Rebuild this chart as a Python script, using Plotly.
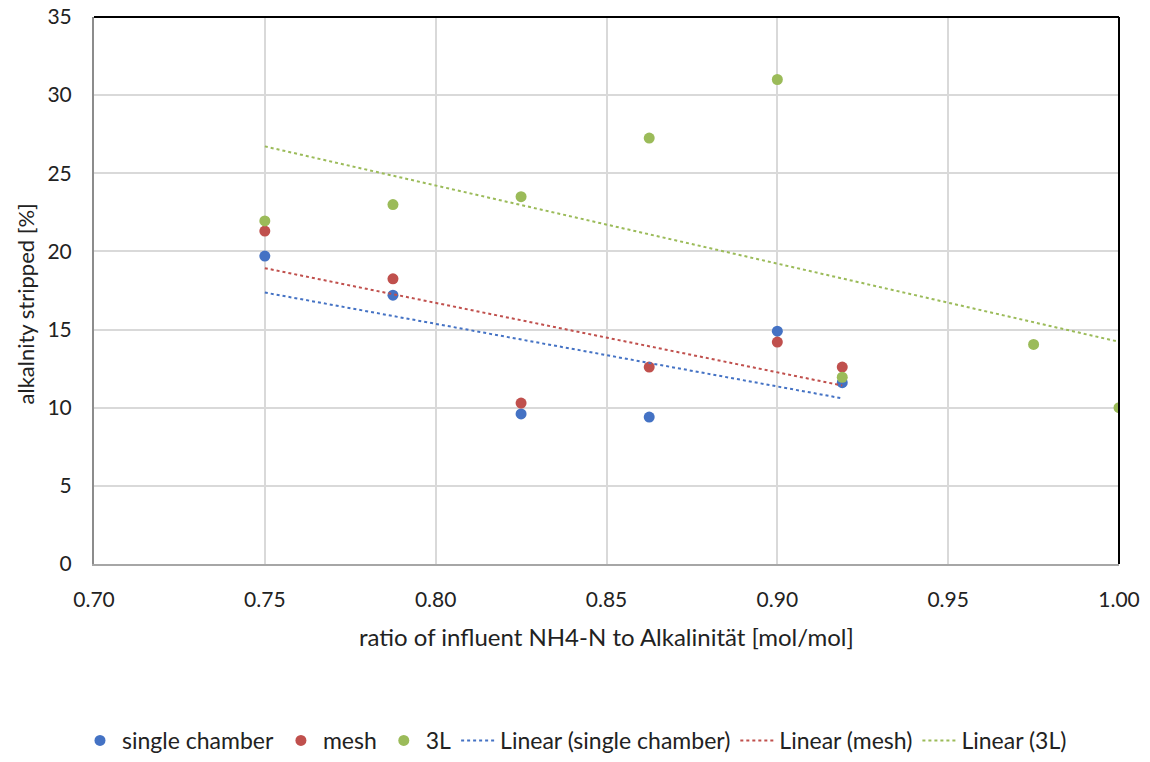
import plotly.graph_objects as go

# Ratio of influent NH4-N to alkalinity [mol/mol]
x_single = [0.75, 0.7875, 0.825, 0.8625, 0.90, 0.919]
y_single = [19.7, 17.2, 9.6, 9.4, 14.9, 11.6]

x_mesh = [0.75, 0.7875, 0.825, 0.8625, 0.90, 0.919]
y_mesh = [21.3, 18.25, 10.3, 12.6, 14.2, 12.6]

x_3l = [0.75, 0.7875, 0.825, 0.8625, 0.90, 0.919, 0.975, 1.00]
y_3l = [21.95, 23.0, 23.5, 27.25, 31.0, 11.95, 14.05, 10.0]

# Linear trend lines (start / end points)
trend_x_single = [0.75, 0.919]
trend_y_single = [17.37, 10.6]
trend_x_mesh = [0.75, 0.919]
trend_y_mesh = [18.93, 11.42]
trend_x_3l = [0.75, 1.00]
trend_y_3l = [26.72, 14.22]

BLUE = "#4472C4"
RED = "#C0504D"
GREEN = "#9BBB59"
FONT = "Lato"
TEXT = "#222222"

fig = go.Figure()

def points(x, y, name, color):
    fig.add_trace(go.Scatter(x=x, y=y, mode="markers", name=name,
                             marker=dict(color=color, size=11, line=dict(width=0))))

def trend(x, y, name, color):
    fig.add_trace(go.Scatter(x=x, y=y, mode="lines", name=name,
                             line=dict(color=color, width=2, dash="dot")))

points(x_single, y_single, "single chamber", BLUE)
points(x_mesh, y_mesh, "mesh", RED)
points(x_3l, y_3l, "3L", GREEN)
trend(trend_x_single, trend_y_single, "Linear (single chamber)", BLUE)
trend(trend_x_mesh, trend_y_mesh, "Linear (mesh)", RED)
trend(trend_x_3l, trend_y_3l, "Linear (3L)", GREEN)

# Black frame on top and right edges of the plot area
fig.add_shape(type="line", xref="paper", yref="paper", x0=0, x1=1, y0=1, y1=1,
              line=dict(color="black", width=2))
fig.add_shape(type="line", xref="paper", yref="paper", x0=1, x1=1, y0=0, y1=1,
              line=dict(color="black", width=2))

# Axis titles
fig.add_annotation(text="ratio of influent NH4-N to Alkalinität [mol/mol]",
                   xref="paper", yref="paper", x=0.5, y=-0.132,
                   xanchor="center", yanchor="middle", showarrow=False,
                   font=dict(family=FONT, size=24, color=TEXT))
fig.add_annotation(text="alkalnity stripped [%]", textangle=-90,
                   xref="paper", yref="paper", x=-0.067, y=0.475,
                   xanchor="center", yanchor="middle", showarrow=False,
                   font=dict(family=FONT, size=22, color=TEXT))

fig.update_layout(
    width=1150, height=762,
    margin=dict(l=94, r=31, t=17, b=198, autoexpand=False),
    paper_bgcolor="white", plot_bgcolor="white",
    font=dict(family=FONT, size=21, color=TEXT),
    showlegend=True,
    legend=dict(orientation="h", xref="container", yref="container",
                x=0.5, xanchor="center", y=0.0, yanchor="bottom",
                font=dict(family=FONT, size=23, color=TEXT),
                itemwidth=34, tracegroupgap=0),
    xaxis=dict(range=[0.70, 1.00], dtick=0.05, tick0=0.70, tickformat=".2f",
               showgrid=True, gridcolor="#d9d9d9", gridwidth=2,
               showline=True, linecolor="#a6a6a6", linewidth=2,
               ticks="", zeroline=False, automargin=False,
               ticklabelstandoff=16,
               tickfont=dict(family=FONT, size=21, color=TEXT)),
    yaxis=dict(range=[0, 35], dtick=5, tick0=0,
               showgrid=True, gridcolor="#d9d9d9", gridwidth=2,
               showline=True, linecolor="#8c8c8c", linewidth=2,
               ticks="", zeroline=False, automargin=False,
               ticklabelstandoff=16,
               tickfont=dict(family=FONT, size=21, color=TEXT)),
)

fig.write_html("out.html")
